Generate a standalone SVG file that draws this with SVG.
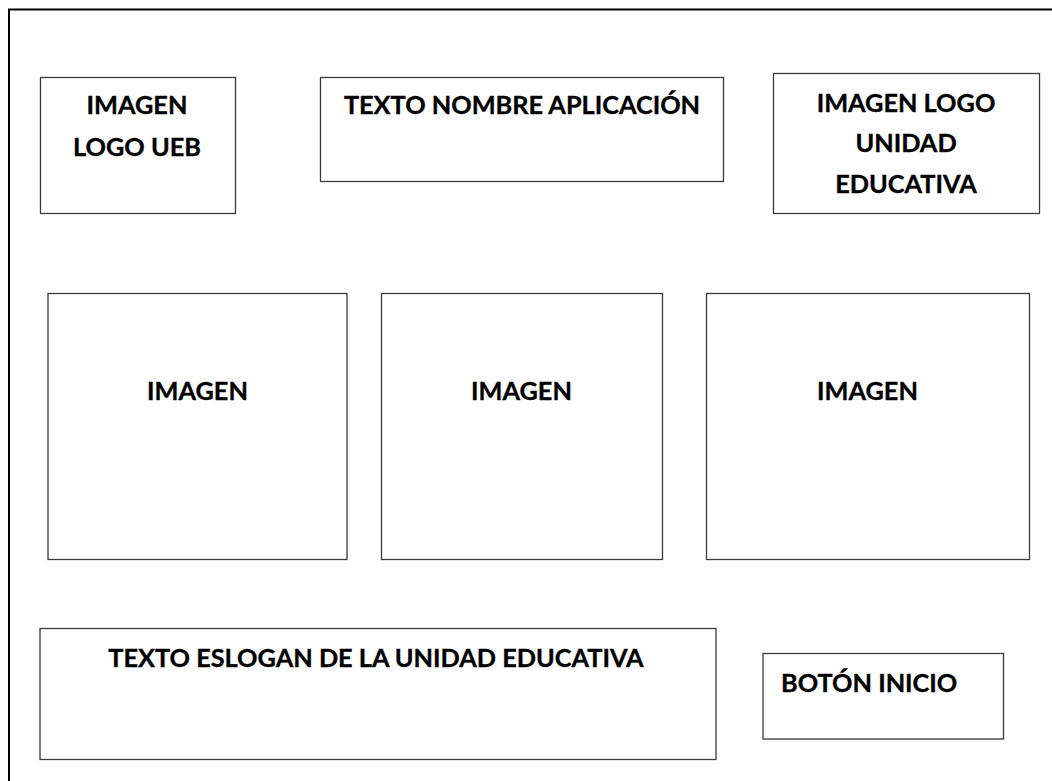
<svg xmlns="http://www.w3.org/2000/svg" width="1052" height="781" viewBox="0 0 1052 781">
<style>
.box{fill:#fff;stroke:#3a3a3a;stroke-width:1.3}
.t{font-family:Lato,"Open Sans","Liberation Sans",sans-serif;font-weight:bold;font-size:25.3px;fill:#000;stroke:#000;stroke-width:0.35;text-anchor:middle}
.frame{fill:none;stroke:#000;stroke-width:2}
</style>
<rect width="1052" height="781" fill="#fff"/>
<path class="frame" d="M9,781 V9.5 H1052"/>
<g id="logo-ueb">
<rect class="box" x="40.5" y="77.5" width="195" height="136"/>
<text class="t" x="137" y="113.5">IMAGEN</text>
<text class="t" x="137" y="156">LOGO UEB</text>
</g>
<g id="nombre-app">
<rect class="box" x="320.5" y="77.5" width="403" height="104"/>
<text class="t" x="522" y="114">TEXTO NOMBRE APLICACIÓN</text>
</g>
<g id="logo-unidad">
<rect class="box" x="773.5" y="73.5" width="266" height="140"/>
<text class="t" x="906" y="112">IMAGEN LOGO</text>
<text class="t" x="906" y="152">UNIDAD</text>
<text class="t" x="906" y="193">EDUCATIVA</text>
</g>
<g id="imagen-1">
<rect class="box" x="48" y="293.5" width="299" height="266"/>
<text class="t" x="197.5" y="399.5">IMAGEN</text>
</g>
<g id="imagen-2">
<rect class="box" x="381.5" y="293.5" width="281" height="266"/>
<text class="t" x="521.5" y="399.5">IMAGEN</text>
</g>
<g id="imagen-3">
<rect class="box" x="706.5" y="293.5" width="323" height="266"/>
<text class="t" x="867.5" y="399.5">IMAGEN</text>
</g>
<g id="eslogan">
<rect class="box" x="40" y="628.5" width="676" height="131"/>
<text class="t" x="376" y="667">TEXTO ESLOGAN DE LA UNIDAD EDUCATIVA</text>
</g>
<g id="boton-inicio">
<rect class="box" x="763" y="653.5" width="240.5" height="85.5"/>
<text class="t" x="781" y="691.5" style="text-anchor:start">BOTÓN INICIO</text>
</g>
<g id="connectors"></g>
</svg>
